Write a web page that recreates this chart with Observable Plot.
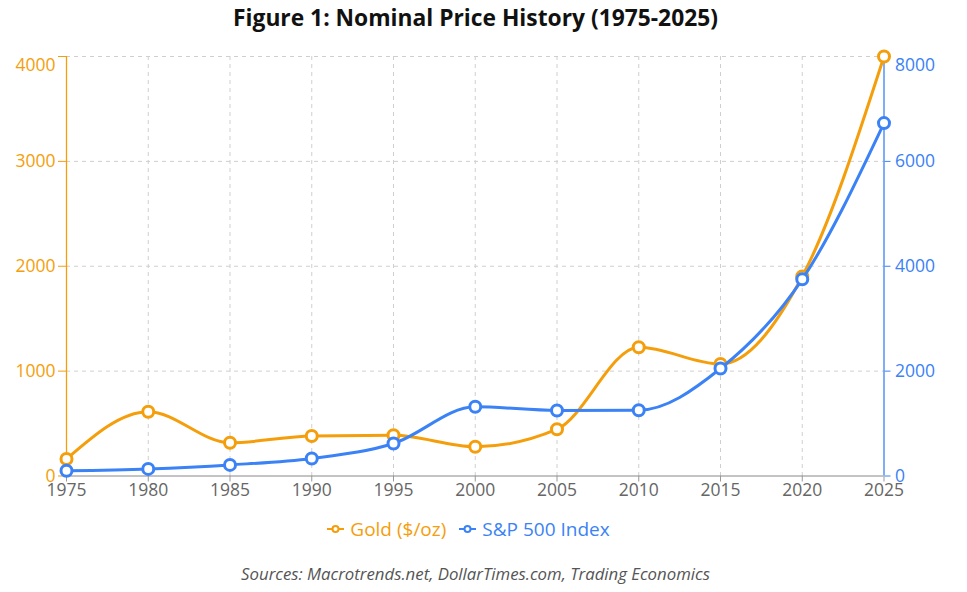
<!DOCTYPE html>
<html><head><meta charset="utf-8">
<script src="https://cdn.jsdelivr.net/npm/d3@7"></script>
<script src="https://cdn.jsdelivr.net/npm/@observablehq/plot@0.6"></script>
<style>
body{margin:0;background:#fff;font-family:"Open Sans",sans-serif;}
#wrap{width:951px;}
.title{height:35px;line-height:35px;text-align:center;font-weight:700;font-size:22.8px;color:#111;}
.legend{height:46px;display:flex;justify-content:center;align-items:center;gap:13px;font-size:19px;padding-right:14px;}
.legend .item{display:flex;align-items:center;gap:6px;}
.caption{height:44px;line-height:44px;text-align:center;font-style:italic;font-size:16.8px;color:#555;}
</style></head><body>
<div id="wrap">
<div class="title">Figure 1: Nominal Price History (1975-2025)</div>
<div id="chart"></div>
<div class="legend" id="legend"></div>
<div class="caption">Sources: Macrotrends.net, DollarTimes.com, Trading Economics</div>
</div>
<script>
const years = [1975, 1980, 1985, 1990, 1995, 2000, 2005, 2010, 2015, 2020, 2025];
const gold  = [162, 613, 317, 382, 388, 279, 446, 1228, 1068, 1903, 4000];
const sp500 = [100, 135, 212, 335, 620, 1320, 1250, 1255, 2050, 3750, 6730];
const goldTicks = [0, 1000, 2000, 3000, 4000];
const spTicks = [0, 2000, 4000, 6000, 8000];
const seriesNames = ["Gold ($/oz)", "S&P 500 Index"];
const colors = ["#f59e0b", "#3b82f6"];

const ratio = spTicks[spTicks.length - 1] / goldTicks[goldTicks.length - 1];
const rows = years.map((y, i) => ({year: y, gold: gold[i], sp: sp500[i] / ratio}));
const topGold = goldTicks[goldTicks.length - 1];

const chart = Plot.plot({
  width: 951,
  height: 471,
  marginLeft: 66,
  marginRight: 67.5,
  marginTop: 21,
  marginBottom: 30.5,
  style: {fontFamily: "'Open Sans', sans-serif", fontSize: "17.5px", overflow: "visible", background: "white"},
  x: {domain: [years[0], years[years.length - 1]], label: null},
  y: {domain: [0, topGold], label: null},
  marks: [
    Plot.gridY(goldTicks.slice(1), {stroke: "#cfcfcf", strokeOpacity: 1, strokeDasharray: "4,4"}),
    Plot.gridX(years.slice(1, -1), {stroke: "#cfcfcf", strokeOpacity: 1, strokeDasharray: "4,4"}),
    Plot.ruleY([0], {stroke: "#888"}),
    Plot.ruleX([years[0]], {stroke: colors[0], strokeWidth: 1.3}),
    Plot.ruleX([years[years.length - 1]], {stroke: colors[1], strokeWidth: 1.3}),
    Plot.axisX(years, {tickFormat: d => String(d), fill: "#666", stroke: "#999", tickSize: 6, tickPadding: 2, label: null, fontSize: 17.5}),
    Plot.axisY(goldTicks, {anchor: "left", tickFormat: d => d === topGold ? "" : String(d), fill: colors[0], stroke: colors[0], tickSize: 8, tickPadding: 3, label: null, fontSize: 17.5}),
    Plot.text([topGold], {x: years[0], y: d => d, text: d => String(d), dx: -11, dy: 9, textAnchor: "end", fill: colors[0], fontSize: 17.5}),
    Plot.axisY(goldTicks, {anchor: "right", tickFormat: d => d === topGold ? "" : String(d * ratio), fill: colors[1], stroke: colors[1], tickSize: 6, tickPadding: 5, label: null, fontSize: 17.5}),
    Plot.text([topGold], {x: years[years.length - 1], y: d => d, text: d => String(d * ratio), dx: 11, dy: 9, textAnchor: "start", fill: colors[1], fontSize: 17.5}),
    Plot.line(rows, {x: "year", y: "gold", stroke: colors[0], strokeWidth: 3, curve: "monotone-x"}),
    Plot.dot(rows, {x: "year", y: "gold", r: 5.5, fill: "white", stroke: colors[0], strokeWidth: 3}),
    Plot.line(rows, {x: "year", y: "sp", stroke: colors[1], strokeWidth: 3, curve: "monotone-x"}),
    Plot.dot(rows, {x: "year", y: "sp", r: 5.5, fill: "white", stroke: colors[1], strokeWidth: 3})
  ]
});
document.getElementById("chart").appendChild(chart);

const legend = document.getElementById("legend");
seriesNames.forEach((name, i) => {
  const item = document.createElement("div");
  item.className = "item";
  item.style.color = colors[i];
  item.innerHTML = `<svg width="17" height="10"><line x1="0" y1="5" x2="17" y2="5" stroke="${colors[i]}" stroke-width="2"/><circle cx="8.5" cy="5" r="3" fill="white" stroke="${colors[i]}" stroke-width="2"/></svg><span>${name}</span>`;
  legend.appendChild(item);
});
</script>
</body></html>
